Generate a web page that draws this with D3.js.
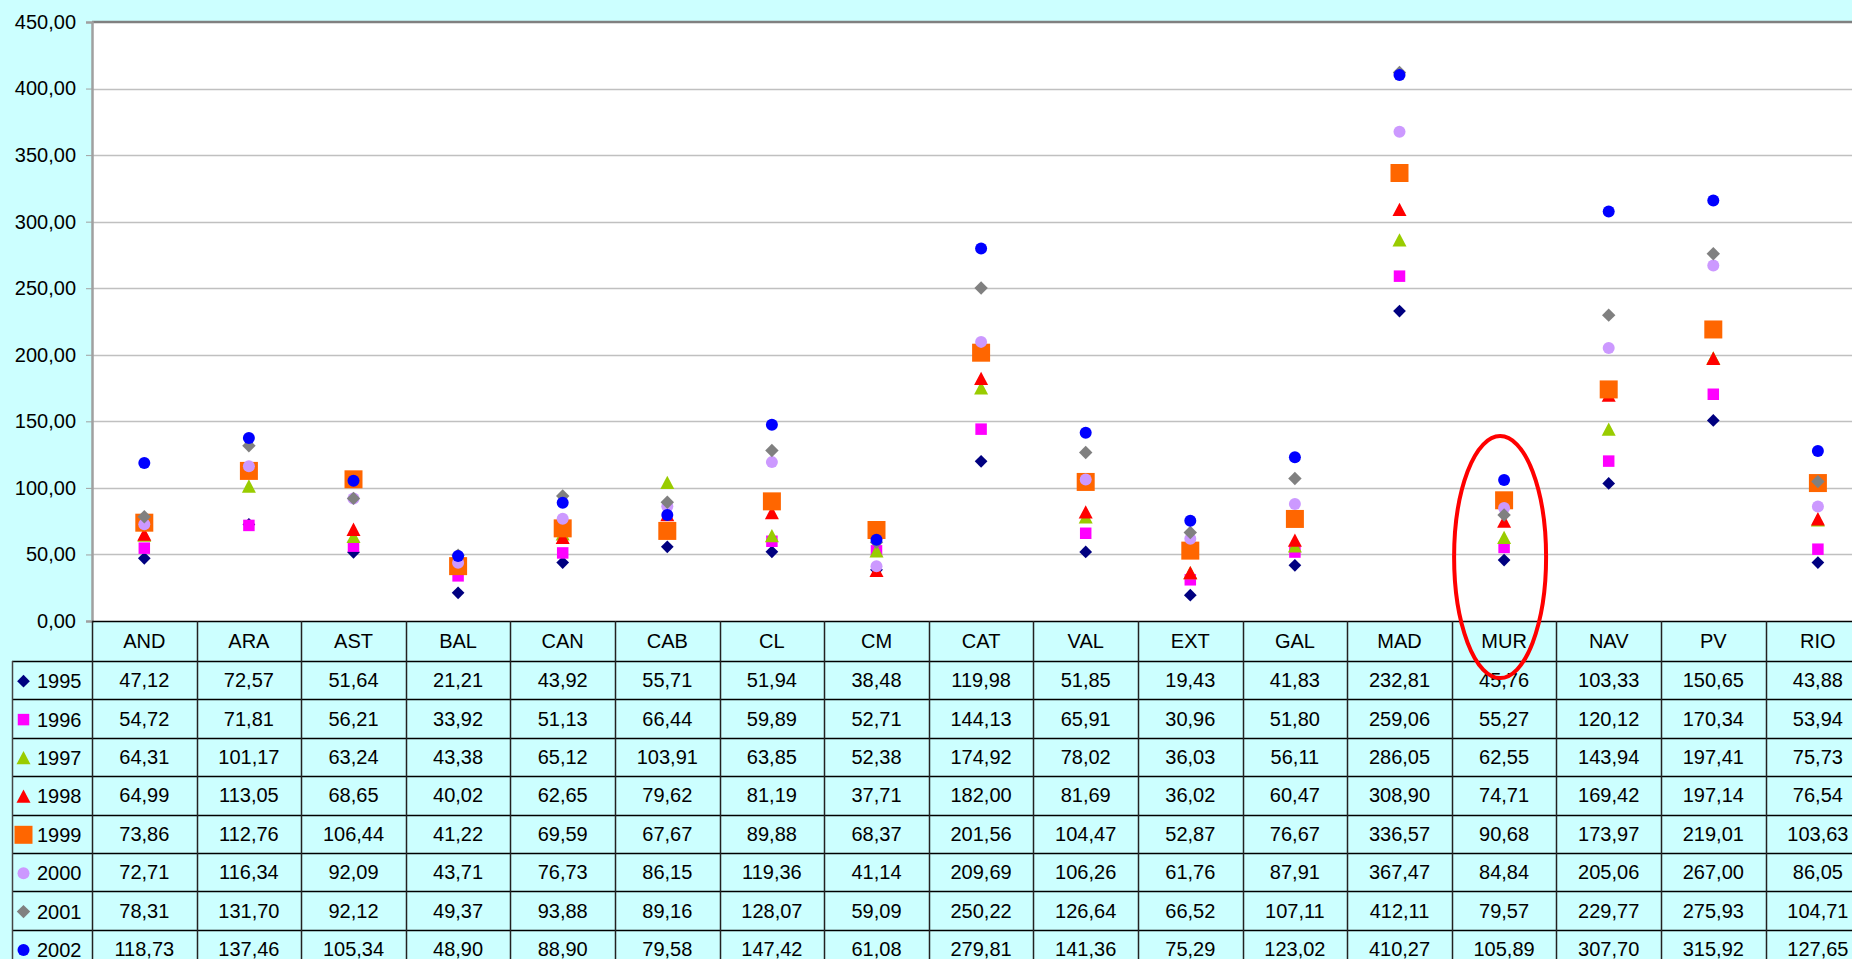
<!DOCTYPE html>
<html>
<head>
<meta charset="utf-8">
<script src="https://cdn.jsdelivr.net/npm/d3@7"></script>
<style>
  html, body { margin: 0; padding: 0; background: #CCFFFF; overflow: hidden; }
  text { font-family: "Liberation Sans", Arial, sans-serif; fill: #000; }
</style>
</head>
<body>
<script>
// regions (table columns)
const categories = ["AND", "ARA", "AST", "BAL", "CAN", "CAB", "CL", "CM", "CAT",
                    "VAL", "EXT", "GAL", "MAD", "MUR", "NAV", "PV", "RIO"];

// one row of values per year
const years = ["1995", "1996", "1997", "1998", "1999", "2000", "2001", "2002"];
const v1995 = [47.12, 72.57, 51.64, 21.21, 43.92, 55.71, 51.94, 38.48, 119.98,
               51.85, 19.43, 41.83, 232.81, 45.76, 103.33, 150.65, 43.88];
const v1996 = [54.72, 71.81, 56.21, 33.92, 51.13, 66.44, 59.89, 52.71, 144.13,
               65.91, 30.96, 51.80, 259.06, 55.27, 120.12, 170.34, 53.94];
const v1997 = [64.31, 101.17, 63.24, 43.38, 65.12, 103.91, 63.85, 52.38, 174.92,
               78.02, 36.03, 56.11, 286.05, 62.55, 143.94, 197.41, 75.73];
const v1998 = [64.99, 113.05, 68.65, 40.02, 62.65, 79.62, 81.19, 37.71, 182.00,
               81.69, 36.02, 60.47, 308.90, 74.71, 169.42, 197.14, 76.54];
const v1999 = [73.86, 112.76, 106.44, 41.22, 69.59, 67.67, 89.88, 68.37, 201.56,
               104.47, 52.87, 76.67, 336.57, 90.68, 173.97, 219.01, 103.63];
const v2000 = [72.71, 116.34, 92.09, 43.71, 76.73, 86.15, 119.36, 41.14, 209.69,
               106.26, 61.76, 87.91, 367.47, 84.84, 205.06, 267.00, 86.05];
const v2001 = [78.31, 131.70, 92.12, 49.37, 93.88, 89.16, 128.07, 59.09, 250.22,
               126.64, 66.52, 107.11, 412.11, 79.57, 229.77, 275.93, 104.71];
const v2002 = [118.73, 137.46, 105.34, 48.90, 88.90, 79.58, 147.42, 61.08, 279.81,
               141.36, 75.29, 123.02, 410.27, 105.89, 307.70, 315.92, 127.65];

// y axis ticks
const yTicks = [0, 50, 100, 150, 200, 250, 300, 350, 400, 450];

// highlighted region
const highlight = "MUR";

// marker style per year, same order as years
const markers = [
    {shape: "diamond",  color: "#000080", size: 9},
    {shape: "square",   color: "#FF00FF", size: 11.5},
    {shape: "triangle", color: "#99CC00", size: 14},
    {shape: "triangle", color: "#FF0000", size: 14},
    {shape: "square",   color: "#FF6600", size: 18},
    {shape: "circle",   color: "#CC99FF", size: 12},
    {shape: "diamond",  color: "#808080", size: 9.5},
    {shape: "circle",   color: "#0000FF", size: 12}
];


window.onload = function() {
    main();
};


/**
 * Sets up the dimensions and draws chart plus data table.
 */
function main() {
    let w = 1852;
    let h = 959;
    let dims = {w: w, h: h, left: 92, top: 22, zero: 621, colW: 104.6,
                legendLeft: 12, headerH: 40, rowH: 38.4};

    let series = [v1995, v1996, v1997, v1998, v1999, v2000, v2001, v2002]
        .map(function(vals, i) {
            return {year: years[i], values: vals, marker: markers[i]};
        });

    let svg = d3.select("body")
                .append("svg")
                .attr("width", w)
                .attr("height", h);

    let x = d3.scaleBand()
              .domain(categories)
              .range([dims.left, dims.left + categories.length * dims.colW]);

    let y = d3.scaleLinear()
              .domain([0, 450])
              .range([dims.zero, dims.top]);

    drawPlot(svg, dims, x, y, series);
    drawTable(svg, dims, x, series);
    drawHighlight(svg, dims, x, y);
}


/**
 * Comma as decimal mark, like the spreadsheet.
 */
let locale = d3.formatLocale({decimal: ",", thousands: ".", grouping: [3],
                              currency: ["", " €"]});
let fmt = locale.format(".2f");


/**
 * Returns a path for one marker, centred on 0,0.
 */
function markerPath(m) {
    let s = m.size;
    if (m.shape === "circle") {
        return d3.symbol().type(d3.symbolCircle).size(Math.PI * s * s / 4)();
    }
    if (m.shape === "square") {
        return d3.symbol().type(d3.symbolSquare).size(s * s)();
    }
    if (m.shape === "triangle") {
        return "M0," + (-s * 0.5) + "L" + (s / 2) + "," + (s * 0.45) +
               "L" + (-s / 2) + "," + (s * 0.45) + "Z";
    }
    // diamond: square turned 45 degrees
    let d = s * Math.SQRT2 / 2;
    return "M0," + (-d) + "L" + d + ",0L0," + d + "L" + (-d) + ",0Z";
}


/**
 * Draws the white plot area, gridlines, y axis and the markers.
 */
function drawPlot(svg, dims, x, y, series) {
    svg.append("rect")
       .attr("x", dims.left)
       .attr("y", dims.top)
       .attr("width", dims.w - dims.left)
       .attr("height", dims.zero - dims.top)
       .attr("fill", "#FFFFFF");

    // gridlines
    svg.append("g")
       .selectAll("line")
       .data(yTicks.filter(function(t) { return t > 0 && t < 450; }))
       .enter()
       .append("line")
       .attr("x1", dims.left)
       .attr("x2", dims.w)
       .attr("y1", function(d) { return Math.round(y(d)) + 0.5; })
       .attr("y2", function(d) { return Math.round(y(d)) + 0.5; })
       .attr("stroke", "#C0C0C0")
       .attr("stroke-width", 1.5);

    // top border of plot area
    svg.append("line")
       .attr("x1", dims.left)
       .attr("x2", dims.w)
       .attr("y1", dims.top)
       .attr("y2", dims.top)
       .attr("stroke", "#808080")
       .attr("stroke-width", 2.5);

    // y axis
    let axis = d3.axisLeft(y)
                 .tickValues(yTicks)
                 .tickSize(6)
                 .tickPadding(10)
                 .tickFormat(fmt);

    let g = svg.append("g")
               .attr("transform", "translate(" + dims.left + ",0)")
               .call(axis);

    g.select(".domain")
     .attr("stroke", "#A0A0A0")
     .attr("stroke-width", 2.5);
    g.selectAll(".tick line")
     .attr("stroke", "#A0A0A0");
    g.selectAll(".tick text")
     .style("font-family", "'Liberation Sans', Arial, sans-serif")
     .style("font-size", "20px")
     .attr("fill", "#000");

    // markers, later years on top
    series.forEach(function(s) {
        svg.append("g")
           .selectAll("path")
           .data(s.values)
           .enter()
           .append("path")
           .attr("d", markerPath(s.marker))
           .attr("fill", s.marker.color)
           .attr("transform", function(d, i) {
               return "translate(" + (x(categories[i]) + x.bandwidth() / 2) +
                      "," + y(d) + ")";
           });
    });
}


/**
 * Draws the data table under the chart, with the legend as first column.
 */
function drawTable(svg, dims, x, series) {
    let g = svg.append("g");
    let tableTop = dims.zero;
    let bodyTop = tableTop + dims.headerH;
    let right = dims.left + categories.length * dims.colW;
    let bottom = bodyTop + series.length * dims.rowH;

    // header row labels
    g.selectAll(".head")
     .data(categories)
     .enter()
     .append("text")
     .attr("x", function(d) { return x(d) + x.bandwidth() / 2; })
     .attr("y", tableTop + dims.headerH / 2 + 7)
     .attr("text-anchor", "middle")
     .style("font-size", "20px")
     .text(function(d) { return d; });

    // value cells
    series.forEach(function(s, r) {
        let rowY = bodyTop + r * dims.rowH;

        g.append("g")
         .selectAll("text")
         .data(s.values)
         .enter()
         .append("text")
         .attr("x", function(d, i) {
             return x(categories[i]) + x.bandwidth() / 2;
         })
         .attr("y", rowY + dims.rowH / 2 + 7)
         .attr("text-anchor", "middle")
         .style("font-size", "20px")
         .text(fmt);

        // legend key
        g.append("path")
         .attr("d", markerPath(s.marker))
         .attr("fill", s.marker.color)
         .attr("transform", "translate(" + (dims.legendLeft + 11.5) + "," +
                            (rowY + dims.rowH / 2 + 1) + ")");

        g.append("text")
         .attr("x", dims.legendLeft + 25)
         .attr("y", rowY + dims.rowH / 2 + 8)
         .style("font-size", "20px")
         .text(s.year);
    });

    // horizontal rules
    let rules = [tableTop, bodyTop];
    series.forEach(function(s, r) { rules.push(bodyTop + (r + 1) * dims.rowH); });

    g.selectAll(".hrule")
     .data(rules)
     .enter()
     .append("line")
     .attr("x1", function(d, i) { return i < 2 && i === 0 ? dims.left : dims.legendLeft; })
     .attr("x2", right)
     .attr("y1", function(d) { return Math.round(d) + 0.5; })
     .attr("y2", function(d) { return Math.round(d) + 0.5; })
     .attr("stroke", "#000")
     .attr("stroke-width", 1.5);

    // vertical rules
    let cols = categories.map(function(c) { return x(c); });
    cols.push(right);

    g.selectAll(".vrule")
     .data(cols)
     .enter()
     .append("line")
     .attr("x1", function(d) { return Math.round(d) + 0.5; })
     .attr("x2", function(d) { return Math.round(d) + 0.5; })
     .attr("y1", tableTop)
     .attr("y2", bottom)
     .attr("stroke", "#222")
     .attr("stroke-width", 1.5);

    // left edge of legend column
    g.append("line")
     .attr("x1", dims.legendLeft + 0.5)
     .attr("x2", dims.legendLeft + 0.5)
     .attr("y1", bodyTop)
     .attr("y2", bottom)
     .attr("stroke", "#444")
     .attr("stroke-width", 1.5);
}


/**
 * Red ellipse drawn round the highlighted region.
 */
function drawHighlight(svg, dims, x, y) {
    svg.append("ellipse")
       .attr("cx", x(highlight) + x.bandwidth() / 2 - 4)
       .attr("cy", y(48))
       .attr("rx", 46)
       .attr("ry", 121)
       .attr("fill", "none")
       .attr("stroke", "#FF0000")
       .attr("stroke-width", 4);
}
</script>
</body>
</html>
